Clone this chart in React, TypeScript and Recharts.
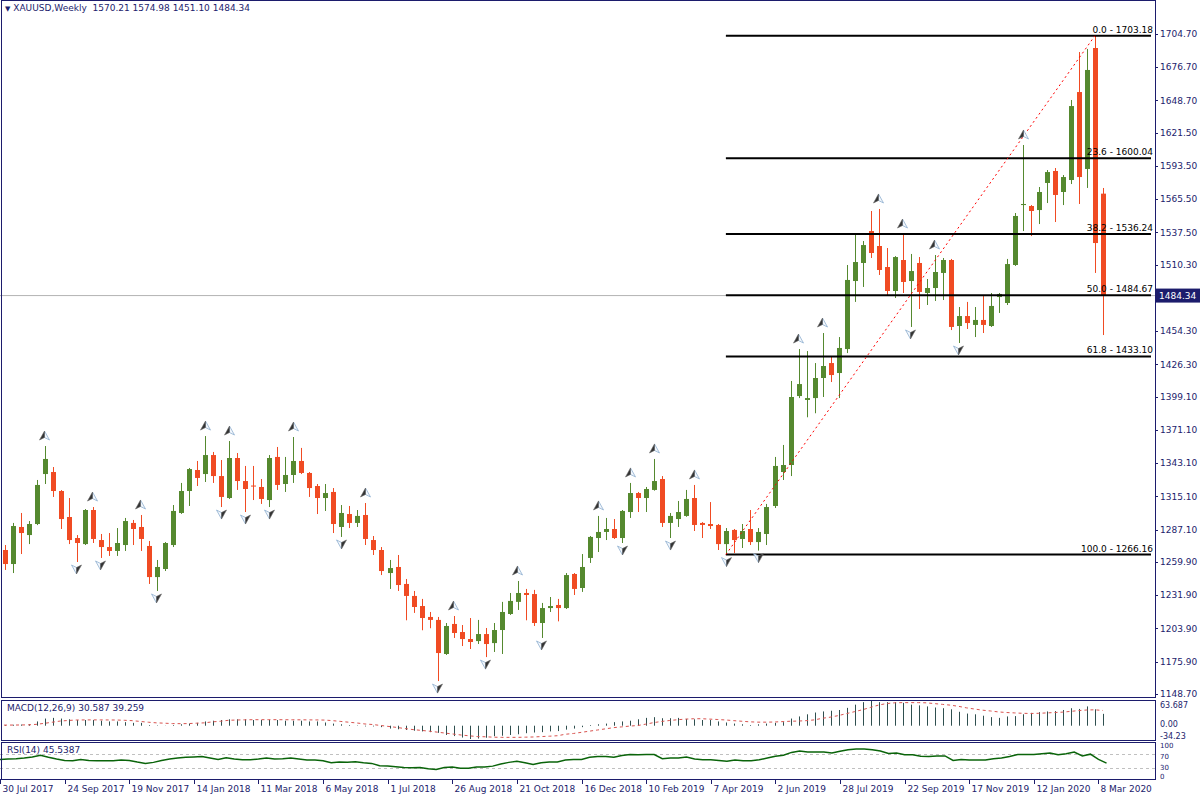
import React from 'react';
import { ComposedChart, Bar, Line, Scatter, XAxis, YAxis, ReferenceLine } from 'recharts';

const NAVY = '#1c1c6c';
const FONT = '"DejaVu Sans", Verdana, sans-serif';
const BULL = '#55892f';
const BEAR = '#f04b23';

// weekly candles, 30 Jul 2017 .. 15 Mar 2020
const opens = [
  1270.0, 1258.2, 1289.4, 1282.6, 1291.9, 1334.0, 1335.7, 1319.7, 1297.8, 1280.1,
  1275.0, 1303.7, 1278.4, 1272.5, 1269.2, 1274.2, 1292.8, 1289.4, 1273.4, 1247.2,
  1254.0, 1274.2, 1301.2, 1319.7, 1337.4, 1334.0, 1350.0, 1332.3, 1313.8, 1347.5,
  1328.1, 1324.3, 1323.1, 1312.1, 1348.4, 1325.6, 1333.2, 1345.0, 1334.9, 1323.9,
  1313.8, 1318.9, 1289.4, 1300.3, 1292.8, 1299.5, 1278.4, 1270.0, 1250.6, 1255.7,
  1241.4, 1231.3, 1222.8, 1213.6, 1211.1, 1182.4, 1207.7, 1200.9, 1195.0, 1193.3,
  1199.2, 1191.6, 1202.6, 1216.1, 1226.3, 1233.8, 1232.9, 1208.5, 1221.1, 1223.7,
  1221.1, 1249.8, 1238.0, 1263.3, 1280.1, 1285.2, 1287.7, 1280.1, 1302.0, 1318.0,
  1313.8, 1320.6, 1329.8, 1292.8, 1296.1, 1298.7, 1313.8, 1292.8, 1291.9, 1291.1,
  1275.0, 1286.9, 1279.3, 1287.7, 1276.7, 1283.5, 1307.1, 1335.7, 1341.6, 1399.7,
  1396.4, 1398.0, 1414.9, 1427.5, 1419.1, 1439.3, 1496.6, 1511.8, 1538.7, 1526.1,
  1508.4, 1488.2, 1514.3, 1496.6, 1511.8, 1486.5, 1490.7, 1503.4, 1514.3, 1458.7,
  1467.1, 1459.6, 1463.8, 1458.7, 1483.1, 1478.1, 1510.1, 1560.6, 1559.8, 1556.4,
  1579.2, 1589.3, 1571.6, 1581.7, 1655.8, 1591.0, 1692.9, 1570.21,
];
const highs = [
  1274.2, 1292.8, 1301.2, 1294.4, 1329.0, 1357.6, 1339.9, 1320.5, 1313.8, 1282.6,
  1304.5, 1306.2, 1283.5, 1284.3, 1288.5, 1297.0, 1295.3, 1299.5, 1277.6, 1261.6,
  1276.7, 1307.9, 1326.5, 1339.1, 1345.0, 1366.0, 1352.6, 1345.8, 1361.8, 1351.7,
  1340.8, 1340.8, 1329.8, 1350.0, 1356.8, 1348.4, 1365.2, 1356.0, 1335.7, 1325.6,
  1325.6, 1322.2, 1307.9, 1307.1, 1303.7, 1309.6, 1281.8, 1272.5, 1261.6, 1265.8,
  1245.6, 1235.5, 1228.8, 1217.8, 1213.6, 1208.5, 1214.4, 1206.8, 1212.7, 1211.1,
  1204.3, 1208.5, 1226.3, 1233.8, 1243.9, 1237.2, 1236.4, 1225.4, 1230.4, 1228.8,
  1250.6, 1250.6, 1266.6, 1281.8, 1298.7, 1297.0, 1296.1, 1303.7, 1326.5, 1318.9,
  1323.1, 1346.7, 1332.3, 1301.2, 1311.3, 1320.6, 1324.8, 1293.5, 1310.4, 1291.9,
  1288.5, 1287.7, 1291.9, 1303.7, 1288.5, 1308.8, 1348.4, 1358.5, 1412.4, 1439.3,
  1437.6, 1427.5, 1452.8, 1433.4, 1449.4, 1510.1, 1536.2, 1530.3, 1555.6, 1557.3,
  1524.4, 1517.6, 1536.2, 1519.4, 1516.8, 1498.3, 1518.5, 1516.0, 1515.2, 1474.7,
  1479.0, 1474.7, 1484.8, 1486.5, 1486.5, 1515.2, 1553.9, 1611.2, 1560.6, 1575.8,
  1590.1, 1591.8, 1585.9, 1649.1, 1689.5, 1692.1, 1703.18, 1574.98,
];
const lows = [
  1253.2, 1250.6, 1266.6, 1275.0, 1291.0, 1325.6, 1314.7, 1287.7, 1275.0, 1259.9,
  1274.2, 1275.9, 1263.3, 1265.0, 1265.0, 1269.2, 1274.2, 1269.2, 1241.4, 1235.5,
  1252.3, 1272.5, 1300.4, 1307.1, 1323.9, 1327.3, 1326.5, 1306.2, 1313.0, 1320.6,
  1302.0, 1312.1, 1308.8, 1306.2, 1320.6, 1318.9, 1326.5, 1334.0, 1314.7, 1300.3,
  1302.9, 1284.3, 1281.0, 1288.5, 1289.4, 1274.2, 1265.8, 1248.9, 1237.2, 1235.5,
  1210.8, 1217.0, 1202.4, 1204.1, 1159.6, 1181.6, 1195.9, 1189.1, 1186.6, 1190.8,
  1179.8, 1184.1, 1182.4, 1215.3, 1219.5, 1210.8, 1206.0, 1195.9, 1217.8, 1209.9,
  1220.3, 1232.1, 1234.7, 1259.1, 1268.3, 1278.4, 1279.3, 1275.9, 1297.0, 1302.0,
  1302.0, 1320.0, 1289.4, 1280.1, 1289.4, 1298.0, 1286.0, 1280.1, 1287.7, 1270.0,
  1266.16, 1267.5, 1271.7, 1274.2, 1269.5, 1274.2, 1305.4, 1329.0, 1332.3, 1398.0,
  1381.8, 1385.2, 1398.9, 1411.5, 1398.0, 1435.9, 1479.0, 1491.6, 1516.0, 1501.7,
  1484.0, 1482.3, 1486.5, 1457.9, 1473.0, 1476.4, 1479.8, 1480.6, 1455.3, 1444.4,
  1456.2, 1449.4, 1452.8, 1457.9, 1469.7, 1476.4, 1509.3, 1538.7, 1534.5, 1544.6,
  1562.3, 1546.3, 1560.6, 1578.3, 1561.5, 1575.0, 1503.4, 1451.10,
];
const closes = [
  1258.2, 1290.2, 1284.3, 1291.9, 1324.8, 1346.7, 1319.7, 1296.1, 1278.4, 1275.9,
  1303.7, 1279.3, 1272.5, 1269.2, 1275.9, 1294.4, 1287.7, 1279.3, 1247.2, 1255.7,
  1275.9, 1302.9, 1319.7, 1338.2, 1330.7, 1350.0, 1332.3, 1314.7, 1347.5, 1328.1,
  1321.4, 1323.5, 1313.0, 1347.5, 1324.8, 1333.2, 1345.0, 1334.9, 1322.2, 1313.8,
  1318.0, 1291.9, 1301.2, 1292.8, 1298.7, 1279.3, 1270.0, 1252.3, 1254.8, 1240.5,
  1231.3, 1222.0, 1212.7, 1211.1, 1183.2, 1206.0, 1200.1, 1195.0, 1192.5, 1199.2,
  1190.8, 1202.6, 1217.8, 1227.1, 1233.8, 1232.1, 1208.5, 1221.1, 1222.8, 1221.1,
  1248.9, 1237.2, 1255.7, 1281.0, 1285.2, 1287.7, 1280.1, 1302.9, 1318.0, 1313.8,
  1321.4, 1328.1, 1292.8, 1298.7, 1302.0, 1313.0, 1291.1, 1291.1, 1290.2, 1275.0,
  1286.0, 1278.4, 1286.0, 1276.7, 1285.2, 1306.2, 1340.8, 1341.6, 1398.9, 1409.8,
  1398.0, 1414.9, 1425.0, 1417.4, 1440.2, 1497.5, 1512.6, 1526.9, 1520.2, 1505.9,
  1488.2, 1516.8, 1495.8, 1505.0, 1487.4, 1490.7, 1504.2, 1514.3, 1457.9, 1467.1,
  1461.2, 1463.8, 1459.6, 1475.6, 1485.7, 1510.9, 1551.4, 1561.5, 1555.6, 1571.6,
  1588.4, 1569.1, 1584.2, 1644.0, 1584.2, 1674.4, 1528.6, 1484.34,
];

// MACD(12,26,9): main histogram and signal
const macdMain = [
  2.0, 2.5, 3.0, 4.0, 11.0, 18.4, 20.2, 18.4, 16.6, 14.7,
  14.7, 14.7, 12.9, 11.0, 11.0, 9.2, 7.4, 7.4, 1.8, 1.0,
  0.5, 1.8, 3.7, 5.5, 7.4, 11.0, 12.9, 14.7, 16.6, 16.6,
  16.6, 14.7, 14.7, 14.7, 14.7, 12.9, 12.9, 12.9, 11.0, 11.0,
  8.3, 5.5, 3.7, 1.8, 0.9, -1.8, -1.8, -3.7, -7.4, -9.2,
  -11.0, -12.9, -14.7, -16.6, -18.4, -23.9, -26.7, -30.5, -34.23, -33.0,
  -31.0, -27.0, -25.8, -23.9, -22.1, -19.3, -17.5, -16.6, -14.7, -13.8,
  -10.1, -7.4, -3.7, 1.8, 3.7, 5.5, 9.2, 11.0, 12.9, 16.6,
  20.2, 22.0, 19.3, 19.3, 20.2, 17.5, 16.6, 14.7, 14.7, 11.0,
  8.3, 5.5, 3.7, 1.8, 3.7, 5.5, 7.4, 9.2, 18.4, 23.9,
  29.4, 34.0, 36.8, 38.6, 40.5, 46.0, 54.3, 60.7, 63.687, 60.7,
  60.7, 60.7, 58.9, 54.3, 52.4, 49.7, 46.9, 45.1, 42.3, 35.9,
  31.3, 29.4, 25.8, 22.1, 20.2, 23.9, 24.8, 29.4, 33.1, 34.9,
  36.8, 37.7, 40.5, 45.1, 43.2, 49.7, 42.3, 30.587,
];
const macdSignal = [
  1.5, 1.7, 1.9, 2.2, 3.5, 6.0, 9.0, 12.0, 13.5, 14.7,
  14.9, 15.0, 15.0, 14.8, 14.7, 14.0, 13.0, 11.0, 9.0, 7.4,
  6.5, 5.5, 5.3, 5.5, 6.5, 7.4, 10.0, 11.5, 14.0, 14.7,
  15.2, 15.5, 15.5, 15.6, 15.5, 15.4, 15.3, 15.2, 15.0, 14.9,
  14.5, 13.0, 11.0, 9.0, 7.0, 4.5, 3.0, 0.5, -2.0, -4.5,
  -7.4, -10.0, -12.0, -14.0, -16.5, -19.0, -21.5, -24.0, -26.0, -28.0,
  -28.5, -29.5, -30.0, -30.0, -30.0, -29.5, -29.0, -28.0, -27.0, -25.8,
  -22.0, -20.0, -17.0, -14.0, -11.0, -8.0, -5.0, -3.0, -1.0, 0.5,
  4.0, 8.0, 11.0, 13.5, 15.5, 17.0, 18.0, 18.0, 17.0, 16.0,
  14.7, 13.0, 11.5, 10.0, 9.2, 9.2, 9.5, 10.5, 11.5, 12.0,
  13.0, 15.0, 19.0, 22.0, 26.0, 31.0, 36.0, 41.0, 47.0, 53.0,
  57.0, 59.0, 59.5, 59.5, 59.5, 59.0, 57.0, 55.0, 53.0, 50.0,
  46.0, 43.0, 40.0, 38.0, 35.5, 34.0, 33.0, 32.0, 31.5, 32.0,
  33.0, 34.0, 35.0, 37.0, 39.0, 40.5, 41.0, 39.259,
];

// RSI(14)
const rsiValues = [
  56, 57, 58, 60, 63, 68, 62, 57, 53, 52,
  56, 53, 52, 52, 52, 54, 53, 48.5, 44.6, 47.5,
  53, 57, 60, 62, 63, 64, 60, 56, 61, 57,
  55, 55, 57, 60, 57, 58, 60, 57, 54, 54,
  52, 46.6, 48.5, 48, 49.5, 46.6, 44.6, 37.8, 36.8, 35,
  33, 32, 33, 29, 27, 33, 34, 31, 31, 34,
  34, 36.8, 42.7, 47.5, 50.5, 46.6, 41.7, 46.6, 48.5, 48.5,
  54, 56, 56, 62, 64, 64, 62, 67, 70, 69,
  70, 70, 58, 60, 60, 63, 57, 55, 55, 53,
  50.5, 54, 52, 52, 55, 60, 65, 68, 76, 80,
  77, 77, 77, 74, 79, 83.7, 85.6, 85.6, 83.7, 80,
  73, 74, 69, 69, 65, 64, 66, 66, 53, 56,
  54, 54, 54, 58, 60, 64, 70, 70, 70, 72,
  74, 69, 72, 77, 66, 71, 56, 45.5387,
];
const rsiLevels = [70, 30];

// bar indexes carrying fractal arrows
const fractalUp = [5, 11, 17, 25, 28, 36, 45, 56, 64, 74, 78, 81, 86, 99, 102, 109, 112, 116, 127];
const fractalDown = [9, 12, 19, 27, 30, 33, 42, 54, 60, 67, 77, 83, 90, 94, 113, 119];

// fibonacci retracement drawn from bar 90 (low) to bar 136 (high)
const fibPct = ['0.0', '23.6', '38.2', '50.0', '61.8', '100.0'];
const fibPrice = [1703.18, 1600.04, 1536.24, 1484.67, 1433.1, 1266.16];
const fibFrom = 90;
const fibTo = 136;

const priceTicks = [
  1148.7, 1175.9, 1203.9, 1231.9, 1259.9, 1287.1, 1315.1, 1343.1, 1371.1, 1399.1,
  1426.3, 1454.3, 1510.3, 1537.5, 1565.5, 1593.5, 1621.5, 1648.7, 1676.7, 1704.7,
];
const dateLabels = [
  '30 Jul 2017', '24 Sep 2017', '19 Nov 2017', '14 Jan 2018', '11 Mar 2018', '6 May 2018',
  '1 Jul 2018', '26 Aug 2018', '21 Oct 2018', '16 Dec 2018', '10 Feb 2019', '7 Apr 2019',
  '2 Jun 2019', '28 Jul 2019', '22 Sep 2019', '17 Nov 2019', '12 Jan 2020', '8 Mar 2020',
];
const LABEL_STEP = 8;
const PAD_BARS = 6; // empty shift area right of the last bar

const W = 1200;
const AXIS_W = 45;
const PLOT_R = W - AXIS_W;
const RSI_H = 58;
const XAXIS_H = 21;
const RSI_BOTTOM = RSI_H - XAXIS_H;

const last = closes.length - 1;

const rows = Array.from({ length: closes.length + PAD_BARS }, (_, i) => {
  if (i > last) return { i };
  return {
    i,
    open: opens[i],
    high: highs[i],
    low: lows[i],
    close: closes[i],
    range: [lows[i], highs[i]],
    fracUp: fractalUp.includes(i) ? highs[i] : null,
    fracDown: fractalDown.includes(i) ? lows[i] : null,
    macd: macdMain[i],
    signal: macdSignal[i],
    rsi: rsiValues[i],
  };
});

const macdMin = Math.min(...macdMain, ...macdSignal);
const macdMax = Math.max(...macdMain, ...macdSignal);

function Candle(props: any) {
  const { x, y, width, height, payload } = props;
  if (!payload || payload.open == null || !height) return <g />;
  const { open, close, high, low } = payload;
  const k = height / (high - low);
  const cx = Math.round(x + width / 2);
  const top = y + (high - Math.max(open, close)) * k;
  const bot = y + (high - Math.min(open, close)) * k;
  const col = close >= open ? BULL : BEAR;
  return (
    <g>
      <line x1={cx + 0.5} x2={cx + 0.5} y1={y} y2={y + height} stroke={col} strokeWidth={1} />
      <rect x={cx - 2} y={top} width={5} height={Math.max(1, bot - top)} fill={col} />
    </g>
  );
}

function UpArrow(props: any) {
  const { cx, cy, payload } = props;
  if (!payload || payload.fracUp == null) return <g />;
  const x = Math.round(cx) + 0.5;
  const t = cy - 15;
  return (
    <g>
      <path d={`M${x},${t} L${x + 5},${t + 9} L${x},${t + 6.5} Z`} fill="#f2f6fb" stroke="#8fb0d0" strokeWidth={0.8} />
      <path d={`M${x},${t} L${x - 5},${t + 9} L${x},${t + 6.5} Z`} fill="#333" stroke="#666" strokeWidth={0.6} />
    </g>
  );
}

function DownArrow(props: any) {
  const { cx, cy, payload } = props;
  if (!payload || payload.fracDown == null) return <g />;
  const x = Math.round(cx) + 0.5;
  const b = cy + 12;
  return (
    <g>
      <path d={`M${x},${b} L${x - 5},${b - 9} L${x},${b - 6.5} Z`} fill="#f2f6fb" stroke="#8fb0d0" strokeWidth={0.8} />
      <path d={`M${x},${b} L${x + 5},${b - 9} L${x},${b - 6.5} Z`} fill="#333" stroke="#666" strokeWidth={0.6} />
    </g>
  );
}

function HistBar(props: any) {
  const { x, y, width, height } = props;
  if (height == null || isNaN(height)) return <g />;
  const cx = Math.round(x + width / 2) + 0.5;
  return <line x1={cx} x2={cx} y1={y} y2={y + height} stroke="#2f4f4f" strokeWidth={1} />;
}

function PriceTick(props: any) {
  const { y, payload } = props;
  const yy = Math.round(y) + 0.5;
  return (
    <g>
      <line x1={PLOT_R} x2={PLOT_R + 3} y1={yy} y2={yy} stroke={NAVY} />
      <text x={PLOT_R + 5} y={y} dy="0.35em" fontSize={9} fill={NAVY} fontFamily={FONT}>
        {payload.value.toFixed(2)}
      </text>
    </g>
  );
}

const sideTick = (fmt: (v: number) => string, shift: (v: number) => number, size: number) => (props: any) => {
  const { y, payload } = props;
  return (
    <text x={PLOT_R + 5} y={y + shift(payload.value)} dy="0.35em" fontSize={size} fill={NAVY} fontFamily={FONT}>
      {fmt(payload.value)}
    </text>
  );
};

function DateTick(props: any) {
  const { x, payload } = props;
  const idx = payload.value;
  if (idx % LABEL_STEP !== 0 || idx / LABEL_STEP >= dateLabels.length) return <g />;
  const cx = Math.round(x) + 0.5;
  return (
    <g>
      <line x1={cx} x2={cx} y1={RSI_BOTTOM} y2={RSI_BOTTOM + 5} stroke={NAVY} />
      <text x={cx + 2} y={RSI_BOTTOM + 13} fontSize={9} fill={NAVY} fontFamily={FONT}>
        {dateLabels[idx / LABEL_STEP]}
      </text>
    </g>
  );
}

const fibLabel = (text: string) => (p: any) => {
  const vb = p.viewBox || {};
  return (
    <text x={vb.x + vb.width + 2} y={vb.y - 3} textAnchor="end" fontSize={9} fill="#000" fontFamily={FONT}>
      {text}
    </text>
  );
};

const priceBox = (text: string) => (p: any) => {
  const vb = p.viewBox || {};
  return (
    <g>
      <rect x={PLOT_R + 1} y={vb.y - 7} width={AXIS_W - 1} height={14} fill={NAVY} />
      <text x={PLOT_R + 4} y={vb.y} dy="0.35em" fontSize={9} fill="#fff" fontFamily={FONT}>{text}</text>
    </g>
  );
};

const frame = (top: number, height: number): React.CSSProperties => ({
  position: 'absolute', left: 1, top, width: PLOT_R, height, boxSizing: 'border-box',
  border: `1px solid ${NAVY}`, pointerEvents: 'none',
});

export default function App() {
  const title = `XAUUSD,Weekly  ${opens[last].toFixed(2)} ${highs[last].toFixed(2)} ${lows[last].toFixed(2)} ${closes[last].toFixed(2)}`;
  return (
    <div style={{ position: 'absolute', left: 0, top: 0, width: W, height: 800, background: '#fff', fontFamily: FONT, overflow: 'hidden' }}>
      {/* price pane */}
      <div style={{ position: 'absolute', left: 0, top: 0 }}>
        <ComposedChart width={W} height={698} data={rows} margin={{ top: 1, right: 0, bottom: 1, left: 0 }}>
          <XAxis dataKey="i" type="category" hide />
          <YAxis orientation="right" width={AXIS_W} domain={[1146.17, 1732.5]} allowDataOverflow
            ticks={priceTicks} interval={0} tick={<PriceTick />} axisLine={false} tickLine={false} />
          <ReferenceLine y={closes[last]} stroke="#b4b4b4" label={priceBox(closes[last].toFixed(2))} />
          {fibPrice.map((v, k) => (
            <ReferenceLine key={k} segment={[{ x: fibFrom, y: v }, { x: rows.length - 1, y: v }]}
              stroke="#000" strokeWidth={2} label={fibLabel(`${fibPct[k]} - ${v.toFixed(2)}`)} />
          ))}
          <ReferenceLine segment={[{ x: fibFrom, y: fibPrice[5] }, { x: fibTo, y: fibPrice[0] }]}
            stroke="#ff0000" strokeDasharray="2 3" />
          <Bar dataKey="range" barSize={5} shape={<Candle />} isAnimationActive={false} />
          <Scatter dataKey="fracUp" shape={<UpArrow />} isAnimationActive={false} />
          <Scatter dataKey="fracDown" shape={<DownArrow />} isAnimationActive={false} />
        </ComposedChart>
      </div>

      {/* MACD pane */}
      <div style={{ position: 'absolute', left: 0, top: 700 }}>
        <ComposedChart width={W} height={41} data={rows} margin={{ top: 1, right: 0, bottom: 2, left: 0 }}>
          <XAxis dataKey="i" type="category" hide />
          <YAxis orientation="right" width={AXIS_W} domain={[macdMin, macdMax]} allowDataOverflow
            ticks={[macdMax, 0, macdMin]} interval={0} axisLine={false} tickLine={false}
            tick={sideTick((v) => (v === 0 ? '0.00' : v === macdMax ? v.toFixed(3) : v.toFixed(2)),
              (v) => (v === macdMax ? 4 : v === 0 ? -2 : -3), 8)} />
          <Bar dataKey="macd" barSize={1} shape={<HistBar />} isAnimationActive={false} />
          <Line dataKey="signal" stroke="#d9534f" strokeDasharray="3 3" strokeWidth={1} dot={false} isAnimationActive={false} />
        </ComposedChart>
      </div>

      {/* RSI pane with the time axis */}
      <div style={{ position: 'absolute', left: 0, top: 742 }}>
        <ComposedChart width={W} height={RSI_H} data={rows} margin={{ top: 2, right: 0, bottom: 0, left: 0 }}>
          <XAxis dataKey="i" type="category" interval={LABEL_STEP - 1} height={XAXIS_H}
            axisLine={false} tickLine={false} tick={<DateTick />} />
          <YAxis orientation="right" width={AXIS_W} domain={[0, 100]} ticks={[100, 70, 30, 0]} interval={0}
            axisLine={false} tickLine={false}
            tick={sideTick((v) => String(v), (v) => (v === 100 ? 2 : v === 70 ? 2 : v === 0 ? -2 : -1), 7)} />
          {rsiLevels.map((v) => (
            <ReferenceLine key={v} y={v} stroke="#c0c0c0" strokeDasharray="3 3" />
          ))}
          <Line dataKey="rsi" stroke="#0a640a" strokeWidth={1.5} dot={false} isAnimationActive={false} />
        </ComposedChart>
      </div>

      <div style={frame(0, 698)} />
      <div style={frame(700, 41)} />
      <div style={frame(742, 38)} />

      <div style={{ position: 'absolute', left: 5, top: 3, fontSize: 9, color: NAVY, whiteSpace: 'pre' }}>
        <span style={{ fontSize: 7 }}>▼</span> {title}
      </div>
      <div style={{ position: 'absolute', left: 7, top: 703, fontSize: 9, color: NAVY }}>
        MACD(12,26,9) {macdMain[last]} {macdSignal[last]}
      </div>
      <div style={{ position: 'absolute', left: 7, top: 745, fontSize: 9, color: NAVY }}>
        RSI(14) {rsiValues[last]}
      </div>
    </div>
  );
}
